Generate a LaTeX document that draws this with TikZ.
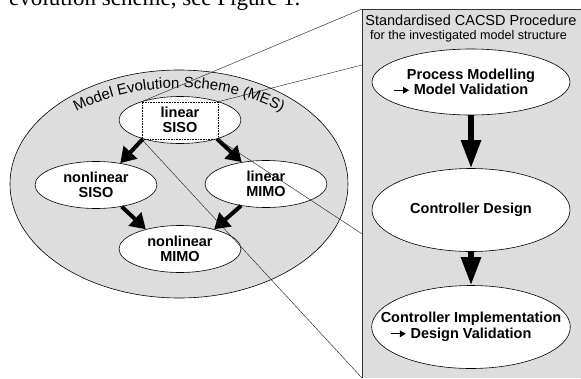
\documentclass[tikz,border=0pt]{standalone}
\usepackage{fontspec}
\setmainfont{Liberation Sans}
\newfontfamily\textserif{Liberation Serif}
\usetikzlibrary{shapes,arrows.meta,positioning,decorations.text}

\definecolor{mesgrey}{RGB}{221,221,221}

% small arrow in front of a line of text
\newcommand{\leadarrow}{\tikz[baseline]\draw[line width=1.3pt,-{Triangle[length=6pt,width=6.5pt]}] (0,0.32em) -- (15pt,0.32em);}

\begin{document}
\begin{tikzpicture}[
  x=1pt,y=-1pt,
  every node/.style={font=\fontsize{14.5}{15.5}\selectfont},
  model/.style={draw,ellipse,fill=white,line width=0.6pt,inner sep=-20pt,align=center,font=\bfseries\fontsize{14.5}{15.5}\selectfont,minimum width=122pt,minimum height=47pt},
  stage/.style={model,minimum width=198pt,minimum height=83pt},
  evo/.style={line width=4pt,-{Triangle[length=15pt,width=18pt]}},
  flow/.style={line width=5.5pt,-{Triangle[length=28pt,width=19pt]}},
  zoomline/.style={line width=0.45pt,black!85},
]
\useasboundingbox (0,0) rectangle (581,378);
\clip (0,0) rectangle (581,378);

% end of the running text above
\node[anchor=base west,inner sep=0,font=\textserif\fontsize{23}{23}\selectfont] (intro) at (9,5) {evolution scheme, see Figure 1.};

% Model Evolution Scheme (left)
\node[draw,ellipse,fill=mesgrey,line width=0.6pt,minimum width=338pt,minimum height=228pt,inner sep=0] (mes) at (179,184) {};
\path[decorate,decoration={text along path,text align=center,
  text={|\fontsize{15}{15}\selectfont|Model Evolution Scheme (MES)}}]
  (179,184) ++(210:155 and 96) arc[start angle=210,end angle=330,x radius=155,y radius=96];

\node[model] (lsiso) at (180,120) {linear\\SISO};
\node[model] (nsiso) at (96,185) {nonlinear\\SISO};
\node[model] (lmimo) at (266,184) {linear\\MIMO};
\node[model] (nmimo) at (180,249) {nonlinear\\MIMO};
\draw[evo] (lsiso.207) -- (nsiso.42);
\draw[evo] (lsiso.333) -- (lmimo.138);
\draw[evo] (nsiso.-40) -- (nmimo.150);
\draw[evo] (lmimo.221) -- (nmimo.30);

% zoom into linear SISO
\node[draw,densely dotted,line width=0.6pt,minimum width=76pt,minimum height=37pt,inner sep=0] (frm) at (180,120.5) {};
\coordinate (pnw) at (362,9);
\coordinate (pne) at (581,9);
\coordinate (psw) at (362,378);
\coordinate (pse) at (581,378);
\draw[zoomline] (frm.north west) -- (pnw);
\draw[zoomline] (frm.north east) -- (pne);
\draw[zoomline] (frm.south west) -- (psw);
\draw[zoomline] (frm.south east) -- (pse);

% Standardised CACSD Procedure (right)
\fill[mesgrey] (pnw) rectangle (pse);
\draw[line width=0.7pt,black!80] (psw) -- (pnw) -- (pne);
\node (title) at (471,20) {Standardised CACSD Procedure};
\node[font=\fontsize{12.6}{14}\selectfont] (subtitle) at (468.5,36) {for the investigated model structure};

\node[stage,minimum height=66pt] (pm) at (471,82) {Process Modelling\\\llap{\leadarrow\ }Model Validation};
\node[stage] (cd) at (471,210) {Controller Design};
\node[stage] (ci) at (471,327) {Controller Implementation\\\llap{\leadarrow\ }Design Validation};
\draw[flow] (pm) -- (cd);
\draw[flow] (cd) -- (ci);

\end{tikzpicture}
\end{document}
